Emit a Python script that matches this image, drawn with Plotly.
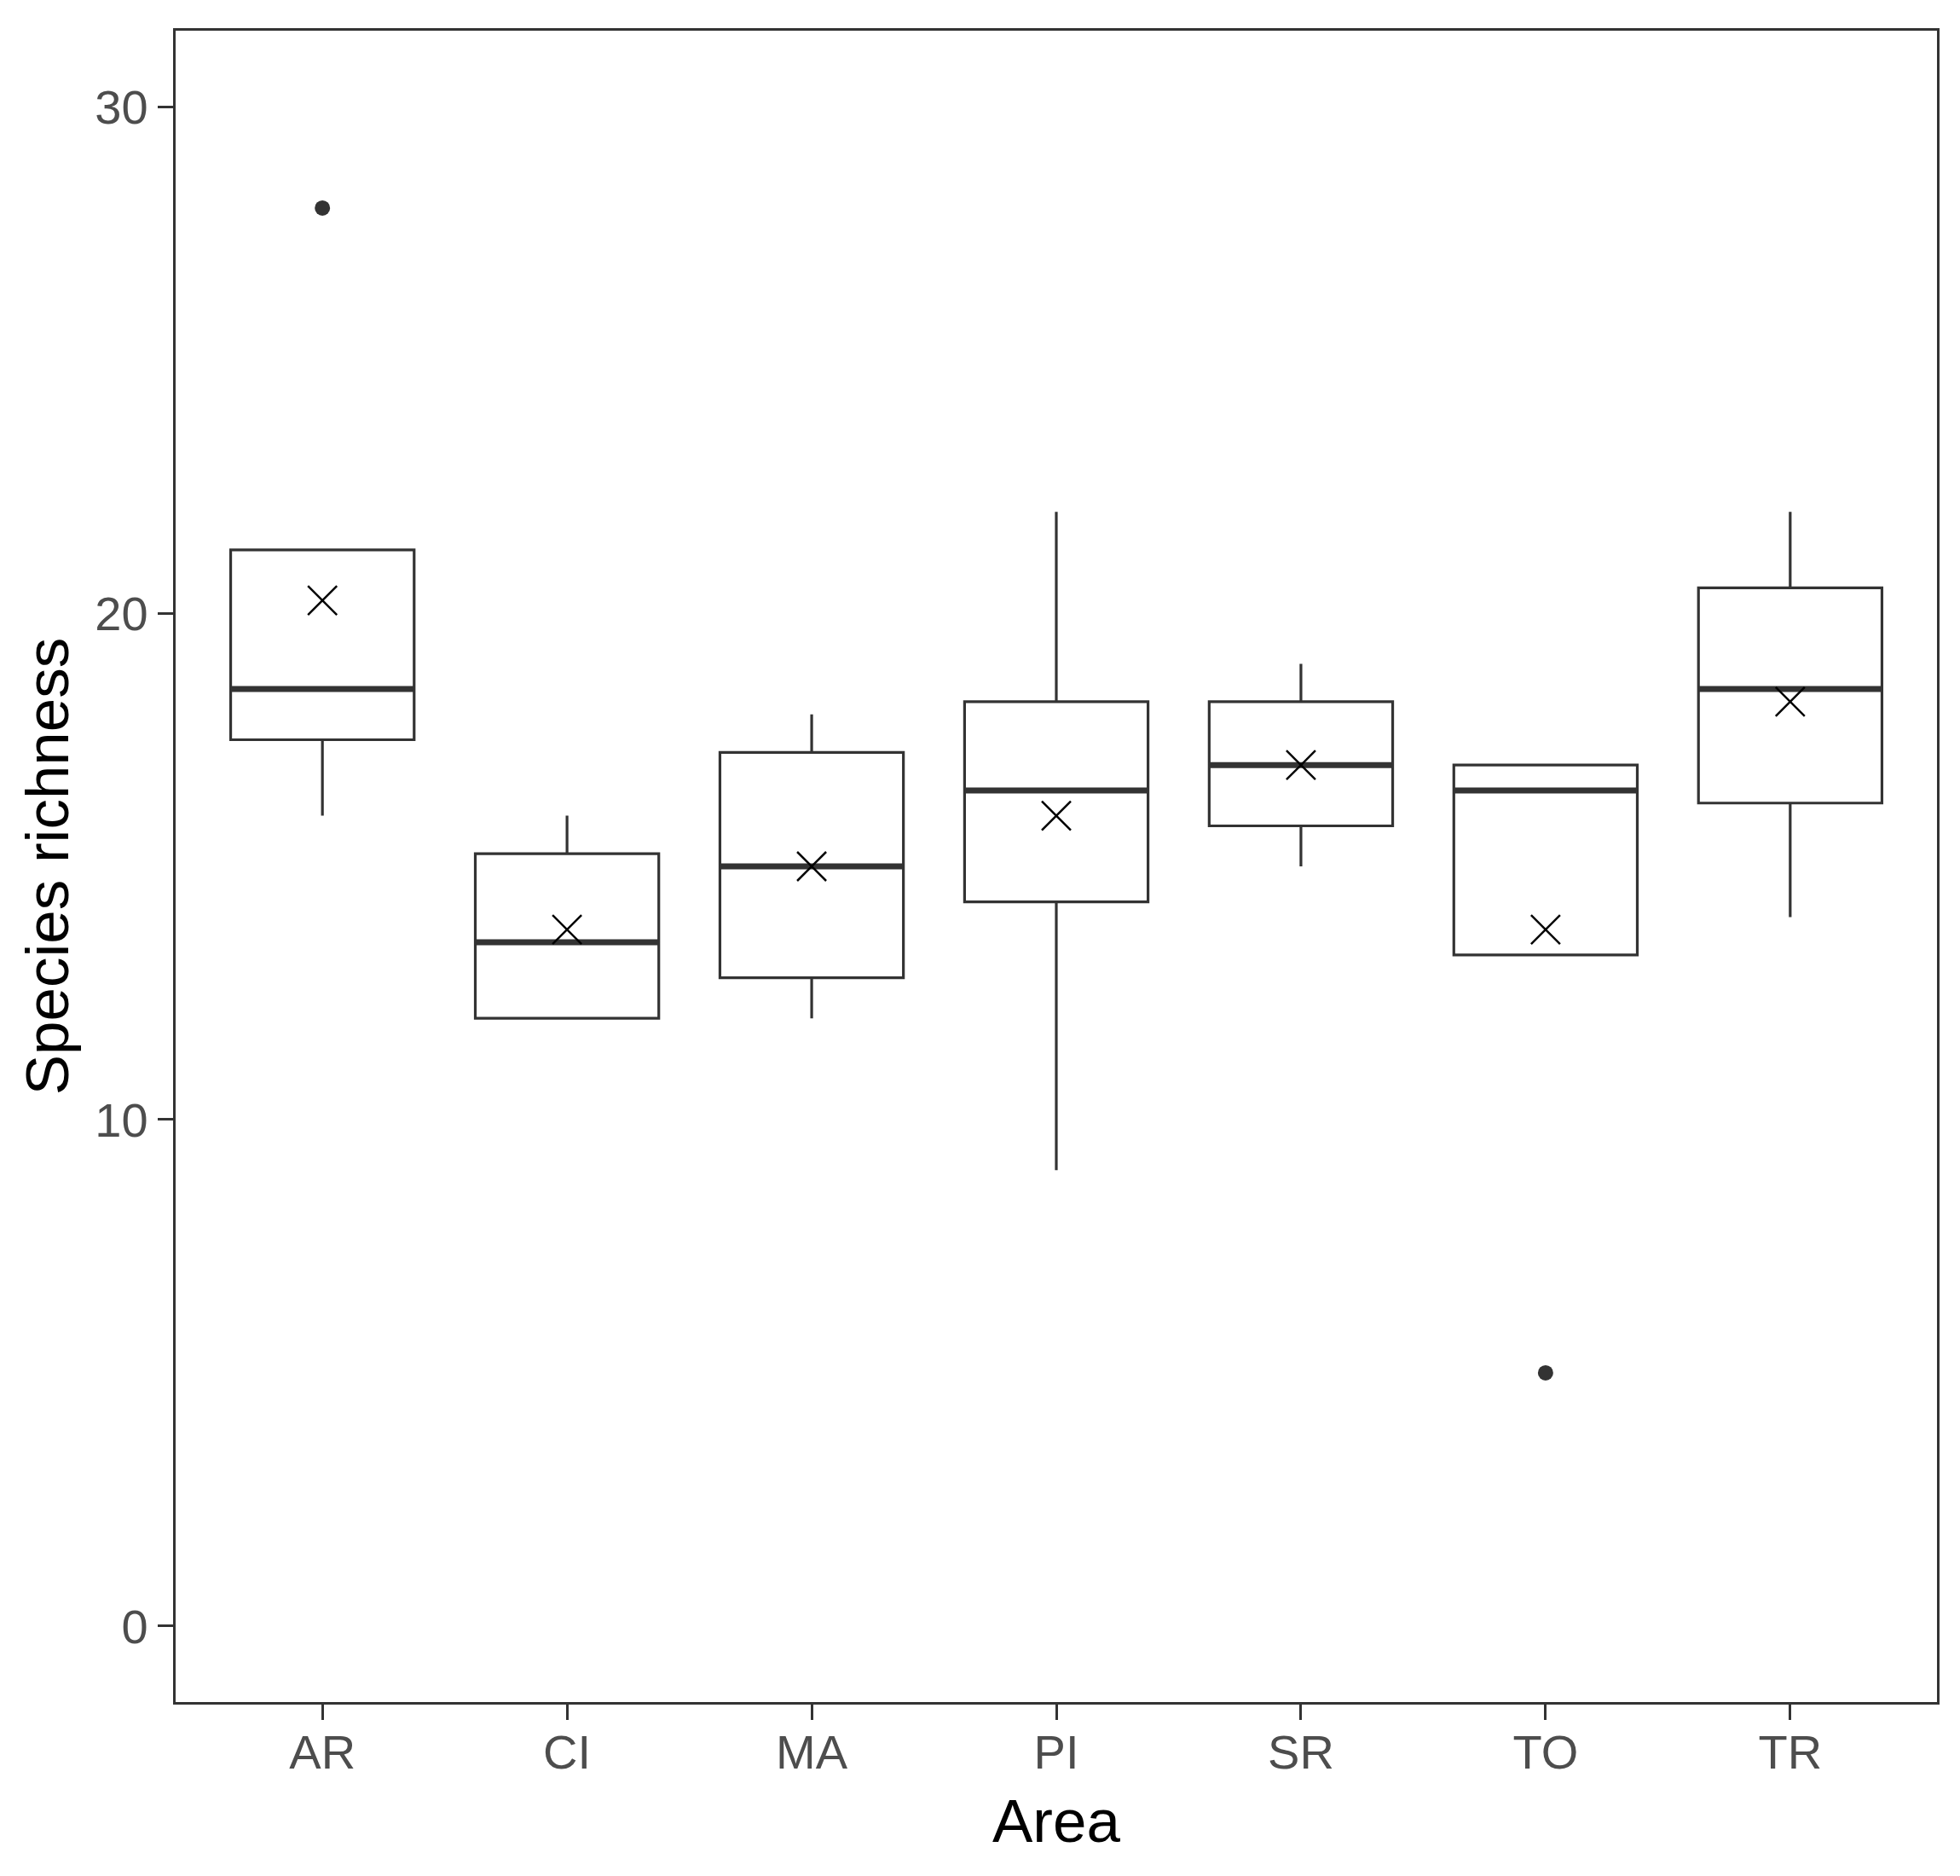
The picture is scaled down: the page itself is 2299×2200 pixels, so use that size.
import plotly.graph_objects as go

# values
areas = ["AR", "CI", "MA", "PI", "SR", "TO", "TR"]
q1 = [17.5, 12.0, 12.8, 14.3, 15.8, 13.25, 16.25]
median = [18.5, 13.5, 15.0, 16.5, 17.0, 16.5, 18.5]
q3 = [21.25, 15.25, 17.25, 18.25, 18.25, 17.0, 20.5]
lower = [16.0, 12.0, 12.0, 9.0, 15.0, 13.25, 14.0]
upper = [21.25, 16.0, 18.0, 22.0, 19.0, 17.0, 22.0]
means = [20.25, 13.75, 15.0, 16.0, 17.0, 13.75, 18.25]

outlier_area = ["AR", "TO"]
outlier_val = [28.0, 5.0]

ink = "#333333"

fig = go.Figure()

# boxes and whiskers (no caps, like ggplot)
fig.add_trace(go.Box(x=areas, q1=q1, median=median, q3=q3,
                     lowerfence=lower, upperfence=upper,
                     width=0.75, whiskerwidth=0, fillcolor="rgba(0,0,0,0)",
                     line=dict(color=ink, width=3.2),
                     boxpoints=False, showlegend=False, hoverinfo="skip"))

# thicker median bar, drawn as a flat box on top
fig.add_trace(go.Box(x=areas, q1=median, median=median, q3=median,
                     lowerfence=median, upperfence=median,
                     width=0.75, whiskerwidth=0, fillcolor="rgba(0,0,0,0)",
                     line=dict(color=ink, width=7),
                     boxpoints=False, showlegend=False, hoverinfo="skip"))

# outliers
fig.add_trace(go.Scatter(x=outlier_area, y=outlier_val, mode="markers",
                         marker=dict(color=ink, size=18, symbol="circle"),
                         showlegend=False))

# means
fig.add_trace(go.Scatter(x=areas, y=means, mode="markers",
                         marker=dict(symbol="x-thin", size=34, color="black",
                                     line=dict(color="black", width=2.5)),
                         showlegend=False))

fig.update_layout(
    width=2299, height=2200,
    margin=dict(l=198, r=35, t=28, b=212),
    paper_bgcolor="white", plot_bgcolor="white",
    boxmode="overlay",
    font=dict(family="Liberation Sans, Arial, sans-serif"),
)

fig.update_xaxes(
    type="category", categoryorder="array", categoryarray=areas,
    range=[-0.6, 6.6],
    showline=True, mirror=True, linecolor=ink, linewidth=3.3,
    showgrid=False, zeroline=False,
    ticks="outside", ticklen=18, tickwidth=3, tickcolor=ink,
    ticklabelstandoff=-10,
    tickfont=dict(size=56, color="#4D4D4D"),
    title=dict(text="Area", font=dict(size=71, color="black"), standoff=25),
)

fig.update_yaxes(
    range=[-1.5, 31.5],
    tickvals=[0, 10, 20, 30],
    showline=True, mirror=True, linecolor=ink, linewidth=3.3,
    showgrid=False, zeroline=False,
    ticks="outside", ticklen=18, tickwidth=3, tickcolor=ink,
    tickfont=dict(size=56, color="#4D4D4D"),
    title=dict(text="Species richness", font=dict(size=71, color="black"), standoff=8),
)

fig.write_html("out.html")
